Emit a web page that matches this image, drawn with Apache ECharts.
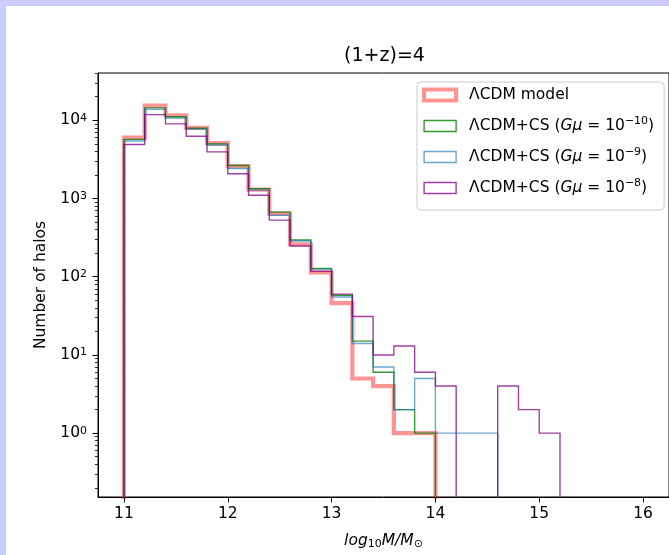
<!DOCTYPE html>
<html><head><meta charset="utf-8">
<script src="https://cdn.jsdelivr.net/npm/echarts@6/dist/echarts.min.js"></script>
<style>
html,body{margin:0;padding:0;width:669px;height:555px;overflow:hidden;background:#ccccff;}
#c{position:absolute;left:6px;top:6px;width:663px;height:549px;background:#ffffff;}
</style></head><body><div id="c"></div>
<script>
// Bin edges of the histogram (log10 M / M_sun)
const binEdges = [11.0,11.2,11.4,11.6,11.8,12.0,12.2,12.4,12.6,12.8,13.0,13.2,13.4,13.6,13.8,14.0,14.2,14.4,14.6,14.8,15.0,15.2];
// Number of halos per bin
const lcdm = [6000,15400,11600,8000,5100,2600,1300,640,260,114,46,5,4,1,1,0,0,0,0,0,0];
const cs10 = [5700,14400,11100,7900,5000,2640,1330,670,295,128,58,15,6,2,1,0,0,0,0,0,0];
const cs9  = [5430,13800,10700,7700,4800,2420,1280,610,286,124,55,14,7,2,5,1,1,1,0,0,0];
const cs8  = [4900,11800,9000,6250,3950,2070,1100,530,247,117,60,31,10,13,6,4,0,0,4,2,1];
const seriesNames = ['ΛCDM model','ΛCDM+CS (Gμ=10^-10)','ΛCDM+CS (Gμ=10^-9)','ΛCDM+CS (Gμ=10^-8)'];
const legendLabels = ['ΛCDM model','ΛCDM+CS ({it|Gμ} = 10{sup|−10})','ΛCDM+CS ({it|Gμ} = 10{sup|−9})','ΛCDM+CS ({it|Gμ} = 10{sup|−8})'];
const xTicks = [11,12,13,14,15,16];
const yTicks = [1,10,100,1000,10000];
const yMinorTicks = [0.2,0.3,0.4,0.5,0.6,0.7,0.8,0.9,2,3,4,5,6,7,8,9,20,30,40,50,60,70,80,90,200,300,400,500,600,700,800,900,2000,3000,4000,5000,6000,7000,8000,9000,20000,30000,40000];
const xMin = 10.75, xMax = 16.25, yMin = 0.1527, yMax = 40240;
const FLOOR = 0.01; // empty bins drop below the axis

const FF = 'DejaVu Sans';
const colors = ['rgba(255,0,0,0.42)','rgba(0,128,0,0.8)','rgba(31,119,180,0.65)','rgba(128,0,128,0.75)'];
const widths = [4.2,1.4,1.4,1.4];
const allCounts = [lcdm, cs10, cs9, cs8];

function stepData(counts){
  const pts = [[binEdges[0], FLOOR]];
  counts.forEach((c,i)=>{
    const v = c > 0 ? c : FLOOR;
    pts.push([binEdges[i], v], [binEdges[i+1], v]);
  });
  pts.push([binEdges[counts.length], FLOOR]);
  return pts;
}

const chart = echarts.init(document.getElementById('c'), null, {renderer:'canvas'});
chart.setOption({
  animation:false,
  textStyle:{fontFamily:FF},
  title:{text:'(1+z)=4', left:378.5, textAlign:'center', top:39, padding:0,
    textStyle:{fontSize:19, fontWeight:'normal', fontFamily:FF, color:'#000', lineHeight:23}},
  grid:{left:92, top:67, right:-2, bottom:57, show:true, borderColor:'#000', borderWidth:1, backgroundColor:'transparent', containLabel:false},
  xAxis:{type:'value', min:xMin, max:xMax,
    axisLine:{show:true, lineStyle:{color:'#000', width:1}},
    axisTick:{show:true, inside:false, length:5.5, lineStyle:{color:'#000', width:1}, customValues:xTicks},
    axisLabel:{customValues:xTicks, color:'#000', fontSize:15.5, fontFamily:FF, margin:9},
    splitLine:{show:false},
    name:'{i|log}{s|10}{i|M/M}{s|⊙}', nameLocation:'middle', nameGap:34,
    nameTextStyle:{rich:{
      i:{fontStyle:'italic', fontSize:15.5, fontFamily:FF, color:'#000', lineHeight:19},
      s:{fontSize:11, fontFamily:FF, color:'#000', lineHeight:11, verticalAlign:'bottom'}
    }}
  },
  yAxis:[{type:'log', logBase:10, min:yMin, max:yMax,
    axisLine:{show:true, lineStyle:{color:'#000', width:1}},
    axisTick:{show:true, inside:false, length:5.5, lineStyle:{color:'#000', width:1}, customValues:yTicks},
    axisLabel:{customValues:yTicks, color:'#000', fontSize:15.5, fontFamily:FF, margin:11,
      formatter:v=>'10{sup|'+Math.round(Math.log10(v))+'}',
      rich:{sup:{fontSize:11, fontFamily:FF, color:'#000', lineHeight:10, verticalAlign:'top'}}},
    splitLine:{show:false}, minorTick:{show:false},
    name:'Number of halos', nameLocation:'middle', nameGap:47,
    nameTextStyle:{fontSize:15.5, fontFamily:FF, color:'#000'}
  },{type:'log', logBase:10, min:yMin, max:yMax, position:'left',
    axisLine:{show:false},
    axisTick:{show:true, inside:false, length:3.2, lineStyle:{color:'#000', width:0.8}, customValues:yMinorTicks},
    axisLabel:{show:false}, splitLine:{show:false}
  }],
  legend:{orient:'vertical', left:411, top:76, padding:[3,10,12,5], itemGap:11, itemWidth:32, itemHeight:11,
    backgroundColor:'rgba(255,255,255,0.8)', borderColor:'#cccccc', borderWidth:1, borderRadius:4,
    selectedMode:false,
    data:seriesNames.map((n,i)=>({name:n, icon:'rect', itemStyle:{color:'rgba(0,0,0,0)', borderColor:colors[i], borderWidth:widths[i]}})),
    formatter:name=>legendLabels[seriesNames.indexOf(name)],
    textStyle:{fontSize:15.5, fontFamily:FF, color:'#000', lineHeight:20, padding:[0,0,0,8],
      rich:{
        it:{fontStyle:'italic', fontSize:15.5, fontFamily:FF, color:'#000', lineHeight:20},
        sup:{fontSize:11, fontFamily:FF, color:'#000', lineHeight:9, verticalAlign:'top'}
      }}
  },
  series:allCounts.map((counts,i)=>({
    name:seriesNames[i], type:'line', xAxisIndex:0, yAxisIndex:0,
    data:stepData(counts), showSymbol:false, symbol:'none', clip:true,
    lineStyle:{color:colors[i], width:widths[i], join:'miter'},
    itemStyle:{color:colors[i]},
    emphasis:{disabled:true}, silent:true, z:2+i
  }))
});
</script></body></html>
